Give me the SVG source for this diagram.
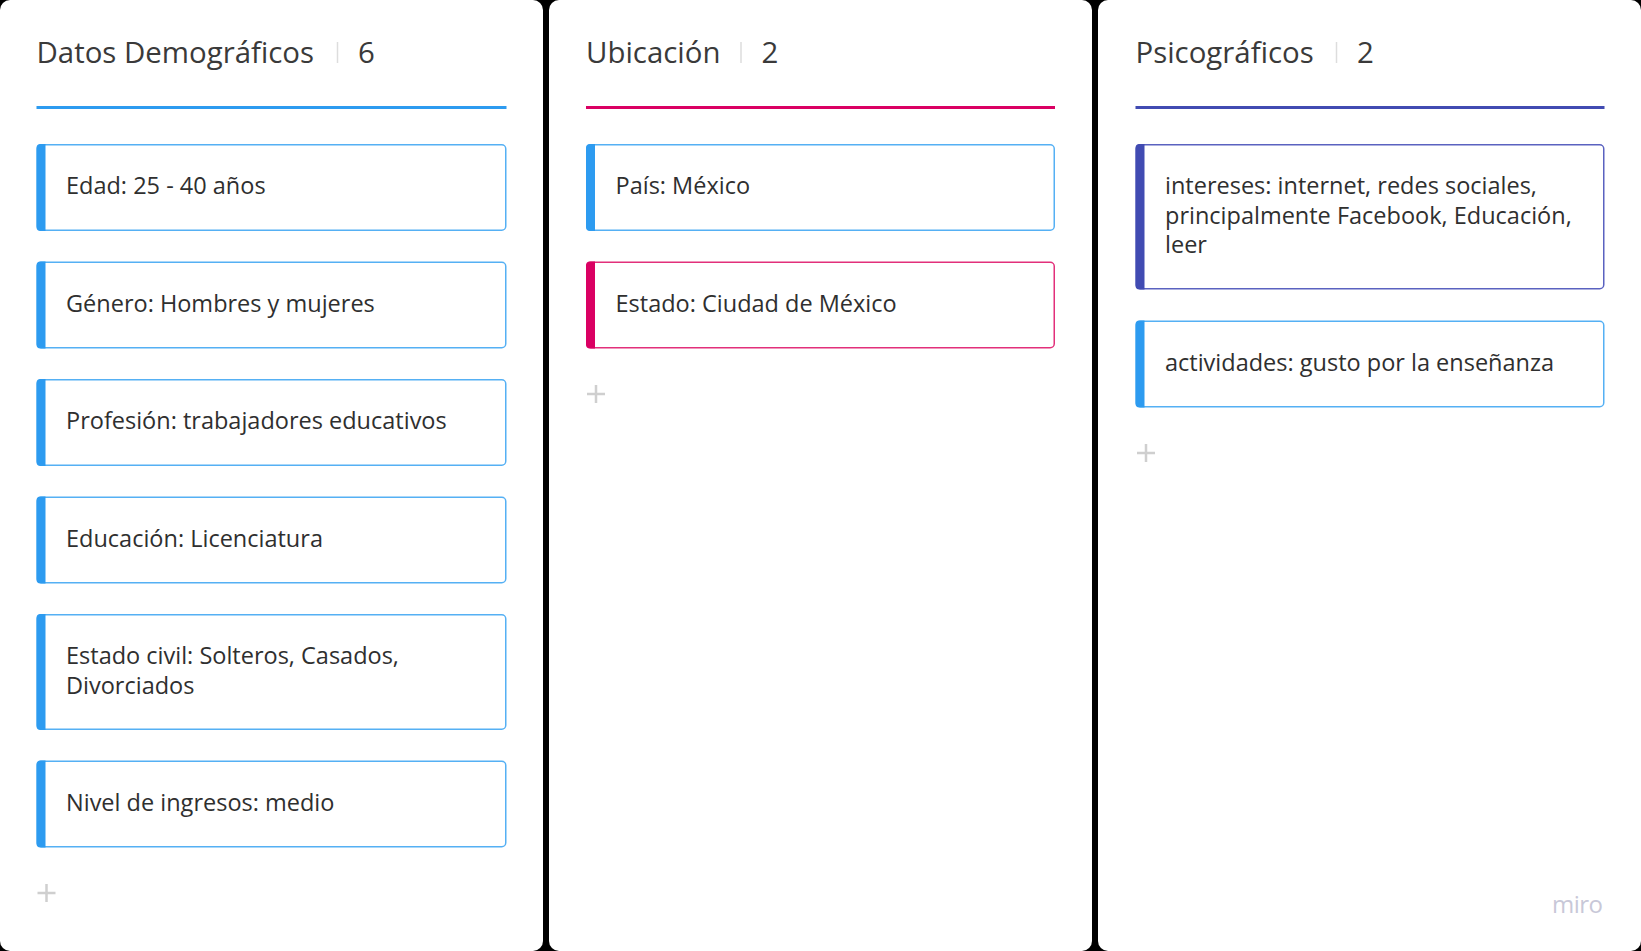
<svg xmlns="http://www.w3.org/2000/svg" width="1641" height="951" viewBox="0 0 1641 951">
<style>
.col{fill:#ffffff}
.hdr{font-family:"Open Sans","Liberation Sans",sans-serif;font-size:29.4px;fill:#3a3a3a}
.sep{stroke:#dddddd;stroke-width:1.5}
.txt{font-family:"Open Sans","Liberation Sans",sans-serif;font-size:23.5px;fill:#2f2f2f}
.plus{stroke:#cfcfcf;stroke-width:2.5;fill:none}
.cb{fill:#ffffff;stroke:#55b0f4;stroke-width:1.5}
.bb{fill:#2d9bf0}
.cp{fill:#ffffff;stroke:#e2307a;stroke-width:1.5}
.bp{fill:#da0063}
.ci{fill:#ffffff;stroke:#5a62c0;stroke-width:1.5}
.bi{fill:#414bb2}
.miro{font-family:"Open Sans","Liberation Sans",sans-serif;font-size:24px;fill:#c8c8d8}
</style>
<defs>
<path id="plus" d="M-9,0H9M0,-9V9"/>
</defs>
<rect x="0" y="0" width="1641" height="951" fill="#000000"/>

<g id="column-demograficos">
<rect class="col" x="0" y="0" width="543" height="951" rx="10"/>
<text class="hdr" x="36.5" y="63">Datos Demográficos</text>
<line class="sep" x1="337.5" y1="42" x2="337.5" y2="63"/>
<text class="hdr" x="358" y="63">6</text>
<rect x="36.5" y="106" width="470" height="3" fill="#2d9bf0"/>
<use href="#plus" class="plus" x="46.5" y="893"/>
</g>

<g id="card-edad" transform="translate(36.5,144)">
<rect class="cb" x="0.75" y="0.75" width="468.5" height="85.5" rx="4"/>
<path class="bb" d="M9,0H4A4,4 0 0 0 0,4V83A4,4 0 0 0 4,87H9Z"/>
<text class="txt" x="29.5" y="50">Edad: 25 - 40 años</text>
</g>
<g id="card-genero" transform="translate(36.5,261.5)">
<rect class="cb" x="0.75" y="0.75" width="468.5" height="85.5" rx="4"/>
<path class="bb" d="M9,0H4A4,4 0 0 0 0,4V83A4,4 0 0 0 4,87H9Z"/>
<text class="txt" x="29.5" y="50">Género: Hombres y mujeres</text>
</g>
<g id="card-profesion" transform="translate(36.5,379)">
<rect class="cb" x="0.75" y="0.75" width="468.5" height="85.5" rx="4"/>
<path class="bb" d="M9,0H4A4,4 0 0 0 0,4V83A4,4 0 0 0 4,87H9Z"/>
<text class="txt" x="29.5" y="50">Profesión: trabajadores educativos</text>
</g>
<g id="card-educacion" transform="translate(36.5,496.5)">
<rect class="cb" x="0.75" y="0.75" width="468.5" height="85.5" rx="4"/>
<path class="bb" d="M9,0H4A4,4 0 0 0 0,4V83A4,4 0 0 0 4,87H9Z"/>
<text class="txt" x="29.5" y="50">Educación: Licenciatura</text>
</g>
<g id="card-estado-civil" transform="translate(36.5,614)">
<rect class="cb" x="0.75" y="0.75" width="468.5" height="114.5" rx="4"/>
<path class="bb" d="M9,0H4A4,4 0 0 0 0,4V112A4,4 0 0 0 4,116H9Z"/>
<text class="txt" x="29.5" y="50">Estado civil: Solteros, Casados,</text>
<text class="txt" x="29.5" y="79.5">Divorciados</text>
</g>
<g id="card-ingresos" transform="translate(36.5,760.5)">
<rect class="cb" x="0.75" y="0.75" width="468.5" height="85.5" rx="4"/>
<path class="bb" d="M9,0H4A4,4 0 0 0 0,4V83A4,4 0 0 0 4,87H9Z"/>
<text class="txt" x="29.5" y="50">Nivel de ingresos: medio</text>
</g>

<g id="column-ubicacion">
<rect class="col" x="549" y="0" width="543" height="951" rx="10"/>
<text class="hdr" x="586" y="63">Ubicación</text>
<line class="sep" x1="741" y1="42" x2="741" y2="63"/>
<text class="hdr" x="761.5" y="63">2</text>
<rect x="586" y="106" width="469" height="3" fill="#da0063"/>
<use href="#plus" class="plus" x="596" y="394"/>
</g>
<g id="card-pais" transform="translate(586,144)">
<rect class="cb" x="0.75" y="0.75" width="467.5" height="85.5" rx="4"/>
<path class="bb" d="M9,0H4A4,4 0 0 0 0,4V83A4,4 0 0 0 4,87H9Z"/>
<text class="txt" x="29.5" y="50">País: México</text>
</g>
<g id="card-estado" transform="translate(586,261.5)">
<rect class="cp" x="0.75" y="0.75" width="467.5" height="85.5" rx="4"/>
<path class="bp" d="M9,0H4A4,4 0 0 0 0,4V83A4,4 0 0 0 4,87H9Z"/>
<text class="txt" x="29.5" y="50">Estado: Ciudad de México</text>
</g>

<g id="column-psicograficos">
<rect class="col" x="1098" y="0" width="543" height="951" rx="10"/>
<text class="hdr" x="1135.5" y="63">Psicográficos</text>
<line class="sep" x1="1336.5" y1="42" x2="1336.5" y2="63"/>
<text class="hdr" x="1357" y="63">2</text>
<rect x="1135.5" y="106" width="469" height="3" fill="#414bb2"/>
<use href="#plus" class="plus" x="1146" y="453"/>
<text class="miro" x="1552" y="913" textLength="51" lengthAdjust="spacing">miro</text>
</g>
<g id="card-intereses" transform="translate(1135.5,144)">
<rect class="ci" x="0.75" y="0.75" width="467.5" height="144" rx="4"/>
<path class="bi" d="M9,0H4A4,4 0 0 0 0,4V141.5A4,4 0 0 0 4,145.5H9Z"/>
<text class="txt" x="29.5" y="50">intereses: internet, redes sociales,</text>
<text class="txt" x="29.5" y="79.5">principalmente Facebook, Educación,</text>
<text class="txt" x="29.5" y="109">leer</text>
</g>
<g id="card-actividades" transform="translate(1135.5,320.5)">
<rect class="cb" x="0.75" y="0.75" width="467.5" height="85.5" rx="4"/>
<path class="bb" d="M9,0H4A4,4 0 0 0 0,4V83A4,4 0 0 0 4,87H9Z"/>
<text class="txt" x="29.5" y="50">actividades: gusto por la enseñanza</text>
</g>

<g id="connectors"></g>
</svg>
